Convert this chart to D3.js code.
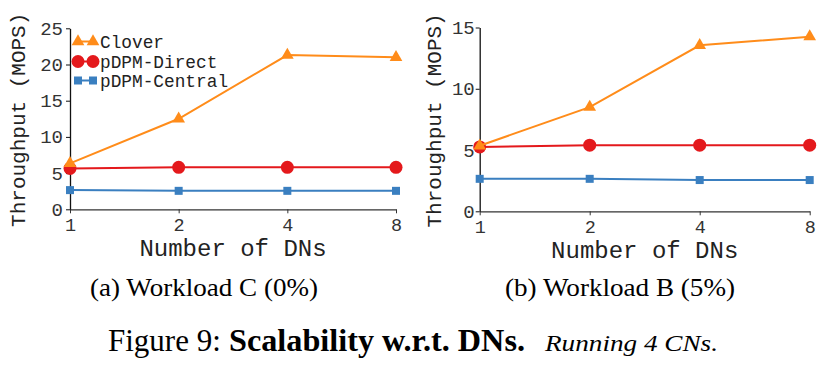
<!DOCTYPE html>
<html><head><meta charset="utf-8">
<script src="https://cdn.jsdelivr.net/npm/d3@7"></script>
<style>
html,body{margin:0;padding:0;background:#fff;}
svg{display:block;}
</style></head>
<body>
<svg id="chart" width="826" height="369"></svg>
<script>
// ---- data ----
const categories = ["1", "2", "4", "8"];
const seriesNames = ["Clover", "pDPM-Direct", "pDPM-Central"];
const cloverC = [6.35, 12.5, 21.3, 21.0];
const directC = [5.65, 5.8, 5.8, 5.8];
const centralC = [2.65, 2.55, 2.55, 2.55];
const cloverB = [5.35, 8.5, 13.55, 14.25];
const directB = [5.25, 5.4, 5.4, 5.4];
const centralB = [2.65, 2.65, 2.55, 2.55];
const yTicksC = [0, 5, 10, 15, 20, 25];
const yTicksB = [0, 5, 10, 15];
const xLabel = "Number of DNs";
const yLabel = "Throughput (MOPS)";
const captionA = "(a) Workload C (0%)";
const captionB = "(b) Workload B (5%)";

const colors = {"Clover": "#ff8c1a", "pDPM-Direct": "#e4191c", "pDPM-Central": "#3a7fc0"};
const svg = d3.select("#chart");
const mono = "'Liberation Mono', 'DejaVu Sans Mono', monospace";
const serif = "'Liberation Serif', 'DejaVu Serif', serif";

function drawMarker(sel, name, cx, cy) {
  const c = colors[name];
  if (name === "Clover") {
    sel.append("path").attr("d", d3.symbol(d3.symbolTriangle, 70)()).attr("transform", `translate(${cx},${cy})`).attr("fill", c);
  } else if (name === "pDPM-Direct") {
    sel.append("circle").attr("cx", cx).attr("cy", cy).attr("r", 6.5).attr("fill", c);
  } else {
    sel.append("rect").attr("x", cx - 4).attr("y", cy - 4).attr("width", 8).attr("height", 8).attr("fill", c);
  }
}

function panel(cfg) {
  const x = d3.scalePoint().domain(categories).range([cfg.x0, cfg.x1]);
  const y = d3.scaleLinear().domain([0, cfg.ymax]).range([cfg.yb, cfg.yt]);
  const g = svg.append("g");

  const xa = g.append("g").attr("transform", `translate(0,${cfg.yb})`)
    .call(d3.axisBottom(x).tickSize(4).tickSizeOuter(0).tickPadding(5));
  xa.select(".domain").attr("stroke", "#333").attr("stroke-width", 1.3);
  xa.selectAll(".tick line").attr("stroke", "#333");
  xa.selectAll("text").attr("font-family", mono).attr("font-size", 18.5).attr("fill", "#333");

  const ya = g.append("g").attr("transform", `translate(${cfg.x0},0)`)
    .call(d3.axisLeft(y).tickValues(cfg.yticks).tickSize(4).tickSizeOuter(0).tickPadding(cfg.tpad));
  ya.select(".domain").attr("stroke", "#111").attr("stroke-width", 1.3);
  ya.selectAll(".tick line").attr("stroke", "#111");
  ya.selectAll("text").attr("font-family", mono).attr("font-size", 19).attr("fill", "#333");

  g.append("text").attr("x", (cfg.x0 + cfg.x1) / 2).attr("y", cfg.yb + 47)
    .attr("text-anchor", "middle").attr("font-family", mono).attr("font-size", 24).attr("fill", "#222")
    .text(xLabel);
  g.append("text").attr("transform", `translate(${cfg.ylx},${(cfg.yt + cfg.yb) / 2 + 1}) rotate(-90)`)
    .attr("text-anchor", "middle").attr("font-family", mono).attr("font-size", 21).attr("fill", "#222")
    .text(yLabel);

  const line = d3.line().x((d, i) => x(categories[i])).y(d => y(d));
  const data = [["pDPM-Central", cfg.central], ["pDPM-Direct", cfg.direct], ["Clover", cfg.clover]];
  data.forEach(([name, vals]) => {
    const sg = g.append("g");
    sg.append("path").datum(vals).attr("d", line).attr("fill", "none")
      .attr("stroke", colors[name]).attr("stroke-width", 2);
    vals.forEach((d, i) => drawMarker(sg, name, x(categories[i]), y(d)));
  });
  return g;
}

const gA = panel({x0: 70, x1: 396, yb: 209.3, yt: 28.3, ymax: 25, yticks: yTicksC,
  clover: cloverC, direct: directC, central: centralC, ylx: 25, tpad: 3});
const gB = panel({x0: 479.7, x1: 809.7, yb: 211.3, yt: 27.5, ymax: 15, yticks: yTicksB,
  clover: cloverB, direct: directB, central: centralB, ylx: 441, tpad: 1});

// legend (left panel)
const legY = [41.5, 61.5, 80.5];
seriesNames.forEach((name, i) => {
  const lg = gA.append("g");
  lg.append("line").attr("x1", 78).attr("x2", 93).attr("y1", legY[i]).attr("y2", legY[i])
    .attr("stroke", colors[name]).attr("stroke-width", 2);
  drawMarker(lg, name, 78, legY[i]);
  drawMarker(lg, name, 93, legY[i]);
  lg.append("text").attr("x", 100).attr("y", legY[i] + 6).attr("font-family", mono)
    .attr("font-size", 17.8).attr("fill", "#222").text(name);
});

// captions
svg.append("text").attr("x", 90).attr("y", 296).attr("font-family", serif).attr("font-size", 25)
  .attr("textLength", 228).attr("lengthAdjust", "spacingAndGlyphs").attr("fill", "#000").text(captionA);
svg.append("text").attr("x", 505).attr("y", 296).attr("font-family", serif).attr("font-size", 25)
  .attr("textLength", 230).attr("lengthAdjust", "spacingAndGlyphs").attr("fill", "#000").text(captionB);

svg.append("text").attr("x", 108).attr("y", 351).attr("font-family", serif).attr("font-size", 31)
  .attr("fill", "#000").text("Figure 9:");
svg.append("text").attr("x", 229).attr("y", 351).attr("font-family", serif).attr("font-size", 31)
  .attr("font-weight", "bold").attr("textLength", 296).attr("lengthAdjust", "spacingAndGlyphs")
  .attr("fill", "#000").text("Scalability w.r.t. DNs.");
svg.append("text").attr("x", 545).attr("y", 351).attr("font-family", serif).attr("font-size", 24)
  .attr("font-style", "italic").attr("textLength", 173).attr("lengthAdjust", "spacingAndGlyphs")
  .attr("fill", "#000").text("Running 4 CNs.");
</script>
</body></html>
